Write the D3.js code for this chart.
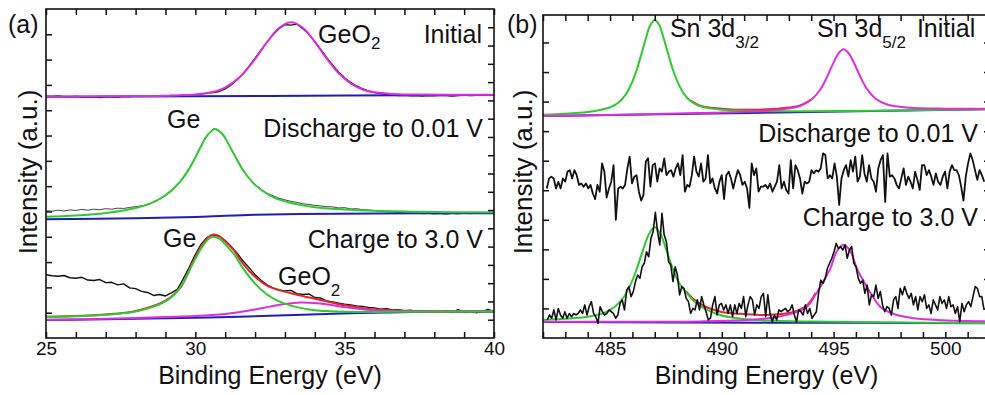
<!DOCTYPE html>
<html>
<head>
<meta charset="utf-8">
<script src="https://cdn.jsdelivr.net/npm/d3@7"></script>
<style>
  body { margin: 0; background: #fff; }
</style>
</head>
<body>
<div id="chart"></div>
<script>
"use strict"

// ---------- panel (a): Ge 3d, measured spectra on a 0.2 eV grid from 25 eV ----------
const aStart = 25, aStep = 0.2
const aInitialData = [9.56,9.55,9.57,9.54,9.53,9.55,9.52,9.51,9.53,9.50,
  9.53,9.54,9.52,9.55,9.54,9.56,9.55,9.57,9.56,9.58,
  9.57,9.59,9.58,9.60,9.61,
  9.62,9.64,9.68,9.70,9.74,9.84,10.00,10.20,10.45,10.74,
  11.06,11.38,11.68,11.98,12.22,12.38,12.36,12.40,12.22,12.00,
  11.72,11.40,11.08,10.78,10.50,
  10.28,10.10,9.96,9.85,9.76,9.70,9.66,9.63,9.60,9.58,
  9.59,9.57,9.58,9.56,9.58,9.57,9.59,9.58,9.56,9.58,
  9.60,9.58,9.59,9.61,9.60,
  9.61]
const aDischargeData = [5.03,5.01,5.05,5.02,5.06,5.04,5.08,5.05,5.09,5.07,
  5.11,5.09,5.13,5.12,5.16,5.19,5.22,5.27,5.36,5.48,
  5.62,5.80,6.04,6.36,6.72,
  7.15,7.62,8.00,8.27,8.18,7.90,7.45,7.05,6.62,6.30,
  6.06,5.88,5.72,5.62,5.52,5.46,5.40,5.36,5.30,5.28,
  5.24,5.22,5.19,5.18,5.14,
  5.15,5.10,5.11,5.07,5.06,5.03,5.02,4.99,4.98,4.96,
  4.95,4.93,4.94,4.91,4.92,4.90,4.91,4.89,4.92,4.90,
  4.93,4.91,4.94,4.92,4.93,
  4.94]
const aChargeData = [2.50,2.46,2.44,2.47,2.38,2.36,2.40,2.29,2.27,2.31,
  2.19,2.20,2.10,2.14,1.98,1.95,1.84,1.80,1.68,1.72,
  1.66,1.78,1.92,2.35,2.80,
  3.30,3.72,3.98,4.08,4.02,3.85,3.62,3.35,3.04,2.78,
  2.50,2.28,2.10,1.98,1.90,1.86,1.88,1.75,1.72,1.74,
  1.60,1.58,1.46,1.42,1.38,
  1.34,1.31,1.27,1.25,1.21,1.19,1.14,1.16,1.11,1.12,
  1.07,1.10,1.05,1.07,1.04,1.06,1.03,1.08,1.01,1.12,
  1.02,1.06,1.00,1.04,1.13,
  1.05]

// fitted curves of panel (a), [binding energy, intensity]
const aInitialGeO2 = [[25,9.54],[26,9.545],[27,9.55],[28,9.56],[29,9.575],[29.6,9.60],[30,9.62],[30.4,9.68],
  [30.8,9.79],[31.2,10.04],[31.6,10.44],[32,11.02],[32.4,11.69],[32.8,12.25],[33.2,12.48],[33.6,12.26],
  [34,11.70],[34.4,11.04],[34.8,10.46],[35.2,10.06],[35.6,9.82],[36,9.71],[36.4,9.66],[36.8,9.63],
  [37.5,9.62],[38.5,9.61],[40,9.61]]
const aInitialBase = [[25,9.53],[30,9.55],[35,9.58],[40,9.60]]

const aDischargeGe = [[25,4.79],[26,4.84],[27,4.94],[28,5.14],[28.5,5.32],[29,5.64],[29.5,6.19],[29.8,6.70],
  [30,7.13],[30.2,7.60],[30.4,8.01],[30.66,8.26],[30.9,8.07],[31.1,7.69],[31.3,7.25],[31.6,6.63],[32,6.05],
  [32.5,5.63],[33,5.40],[34,5.17],[35,5.08],[36,5.03],[38,4.98],[40,4.97]]
const aDischargeBase = [[25,4.69],[28,4.73],[30,4.78],[31,4.83],[32,4.87],[33.5,4.90],[36,4.92],[40,4.93]]

const aChargeGe = [[25,0.83],[26,0.86],[27,0.92],[27.5,0.97],[28,1.05],[28.5,1.20],[29,1.45],[29.3,1.72],
  [29.6,2.20],[29.9,2.90],[30.2,3.55],[30.45,3.92],[30.6,4.00],[30.8,3.93],[31,3.70],[31.3,3.30],[31.6,2.75],
  [32,2.15],[32.4,1.72],[32.8,1.45],[33.4,1.22],[34,1.10],[34.5,1.06],[35,1.04],[36,1.03],[37,1.04],[38,1.04],[40,1.05]]
const aChargeGeO2 = [[25,0.72],[26,0.74],[27,0.76],[28,0.79],[29,0.83],[30,0.87],[31,0.95],[31.5,1.03],
  [32,1.13],[32.5,1.24],[33,1.34],[33.5,1.40],[34,1.38],[34.5,1.31],[35,1.22],[35.5,1.15],[36,1.10],
  [36.5,1.07],[37,1.06],[38,1.05],[39,1.05],[40,1.06]]
const aChargeSum = [[25,0.84],[27,0.93],[28,1.07],[29,1.48],[29.5,1.99],[29.9,2.96],[30.2,3.62],[30.45,4.00],
  [30.6,4.09],[30.8,4.03],[31,3.82],[31.3,3.45],[31.6,2.93],[32,2.42],[32.4,2.07],[32.8,1.89],[33.4,1.71],
  [34,1.55],[34.5,1.42],[35,1.29],[35.5,1.20],[36,1.13],[37,1.08],[38,1.06],[40,1.07]]
const aChargeBase = [[25,0.71],[27.5,0.75],[30,0.80],[32.5,0.88],[34.4,0.95],[36,1.0],[38,1.03],[40,1.04]]

// ---------- panel (b): Sn 3d ----------
// discharged spectrum, only noise
const bDischargeStart = 482.17, bDischargeStep = 0.103
const bDischargeData = [5.06,5.40,5.46,5.40,5.06,5.29,5.06,5.40,5.29,5.63,
  5.68,5.40,5.68,5.51,5.18,5.23,5.12,5.23,5.06,5.18,
  4.89,4.70,5.18,4.95,5.91,5.63,4.75,5.06,5.29,5.85,
  4.00,5.06,5.12,5.06,5.18,5.74,6.14,5.23,5.46,5.51,
  4.95,4.65,4.84,5.97,6.08,5.12,5.85,5.91,5.29,5.74,
  5.63,6.08,5.51,5.63,5.68,5.46,5.74,5.91,5.51,6.19,
  4.95,5.18,5.12,5.51,6.14,5.63,5.46,5.91,5.29,5.40,
  6.19,5.23,5.40,5.06,4.89,5.29,5.51,4.70,5.51,5.63,
  5.40,5.06,5.40,5.68,5.51,5.18,5.29,5.06,4.40,5.91,
  5.51,5.74,4.95,5.12,
  5.12,5.18,5.06,5.23,4.95,5.12,5.29,5.85,5.06,5.29,
  5.01,4.89,6.02,5.06,5.85,5.68,5.40,4.89,5.29,5.23,
  5.29,5.68,5.57,5.68,5.63,5.74,6.25,6.19,5.40,5.51,
  5.40,5.91,5.46,4.50,5.40,5.68,5.85,5.46,6.02,5.63,
  6.14,5.29,5.46,6.19,5.57,5.29,5.85,5.40,5.29,4.95,
  5.74,6.02,6.19,4.60,6.25,5.46,5.51,5.40,5.18,5.06,
  5.40,5.74,5.18,5.46,5.29,5.06,5.63,5.35,5.01,5.85,
  5.85,5.51,5.68,5.46,5.18,5.57,5.29,5.18,5.46,5.63,
  5.06,5.63,5.85,5.68,5.68,5.51,5.12,4.65,5.46,5.91,
  6.25,6.02,5.68,5.35,5.68,5.51,5.29]

// charged spectrum
const bChargeStart = 482.19, bChargeStep = 0.0987
const bChargeData = [0.61,0.78,0.67,0.95,0.61,1.00,0.78,0.67,0.89,0.67,
  0.83,0.72,0.83,0.78,0.83,0.95,0.83,1.12,0.78,1.06,
  1.23,0.83,0.72,0.50,1.06,0.89,0.78,0.83,0.95,0.89,
  0.83,0.67,0.78,1.17,1.29,0.95,1.62,1.74,1.40,1.57,
  1.91,2.13,2.02,2.41,2.53,2.92,2.75,3.37,3.60,4.25,
  3.60,3.15,4.22,3.49,3.26,2.58,2.47,1.91,2.41,2.13,
  1.46,1.74,1.68,1.34,1.23,0.83,1.00,0.95,1.29,0.95,
  1.40,1.12,0.89,0.61,0.67,1.12,1.40,0.78,1.12,1.17,
  0.95,1.12,0.83,1.12,0.72,1.12,0.83,1.17,1.00,1.40,
  0.72,1.12,1.40,1.29,0.78,1.12,1.00,1.40,1.51,0.72,
  1.46,0.83,0.55,0.78,0.61,0.95,0.89,0.95,1.00,0.89,
  0.95,1.12,0.78,0.55,0.95,0.89,0.78,1.12,0.83,1.00,
  0.67,0.78,0.89,1.51,1.96,1.85,2.02,2.36,2.53,2.70,
  2.92,3.20,3.03,3.09,2.98,3.15,2.70,2.98,3.09,2.53,
  2.41,2.02,1.85,1.96,1.51,1.79,1.12,1.46,1.40,1.79,
  1.34,1.57,1.12,0.89,1.06,1.00,0.78,1.29,1.40,1.00,
  1.68,1.46,1.74,1.51,1.34,1.51,1.12,1.40,0.95,1.40,
  1.23,1.46,1.00,1.12,0.83,1.29,1.12,0.95,1.40,1.17,
  1.29,1.00,1.40,1.06,1.12,0.83,1.06,0.55,1.17,0.89,
  1.12,1.23,1.06,1.40,1.74,1.68,1.40,1.40,0.95]

// fitted curves of panel (b)
const bInitialSn32 = [[482,7.555],[483,7.59],[484,7.65],[484.5,7.71],[485,7.81],[485.4,7.98],[485.7,8.24],
  [486,8.68],[486.2,9.09],[486.4,9.60],[486.6,10.13],[486.8,10.58],[487,10.76],[487.2,10.59],[487.4,10.14],
  [487.6,9.61],[487.8,9.11],[488,8.70],[488.3,8.27],[488.6,8.02],[489,7.85],[489.5,7.77],[490,7.72],
  [491,7.68],[492,7.67],[494,7.67],[497,7.69],[502,7.745]]
const bInitialSn52 = [[482,7.51],[486,7.565],[489,7.61],[491,7.656],[492.5,7.72],[493.5,7.85],[494,8.06],
  [494.4,8.40],[494.7,8.82],[495,9.32],[495.25,9.66],[495.45,9.77],[495.65,9.66],[495.9,9.33],[496.2,8.84],
  [496.5,8.42],[496.9,8.09],[497.4,7.90],[498.4,7.79],[500,7.76],[502,7.76]]
const bInitialSum = [[488.6,8.03],[489,7.87],[489.5,7.79],[490,7.76],[491,7.72],[492,7.74],[492.5,7.76],
  [493,7.80],[493.5,7.87],[494,8.07]]
const bInitialBase = [[482,7.51],[502,7.74]]

const bChargeSn32 = [[482,0.61],[483,0.65],[484,0.72],[484.7,0.84],[485.2,1.05],[485.6,1.37],[485.9,1.78],
  [486.1,2.14],[486.25,2.46],[486.5,3.03],[486.75,3.53],[487,3.75],[487.25,3.53],[487.5,3.03],[487.75,2.46],
  [487.9,2.16],[488.1,1.85],[488.4,1.55],[488.8,1.22],[489.3,0.97],[490,0.76],[491,0.64],[492,0.59],
  [494,0.555],[497,0.53],[502,0.51]]
const bChargeSn52 = [[482,0.55],[486,0.55],[489,0.56],[491,0.60],[492.3,0.69],[493.2,0.84],[493.8,1.05],
  [494.2,1.47],[494.55,1.92],[494.85,2.34],[495.15,2.94],[495.45,3.155],[495.75,2.94],[496.05,2.34],
  [496.35,1.92],[496.7,1.47],[497.1,1.05],[497.7,0.81],[498.6,0.665],[499.9,0.60],[502,0.56]]
const bChargeSum = [[488.4,1.58],[488.8,1.28],[489.3,1.05],[490,0.88],[490.8,0.82],[491.7,0.78],
  [492.5,0.80],[493.2,0.88],[493.8,1.10],[494.2,1.52]]
const bChargeBase = [[482,0.54],[492,0.52],[502,0.50]]

// tick labels
const aTickLabels = [25, 30, 35, 40]
const bTickLabels = [485, 490, 495, 500]

// colours
const BLACK = "#111", GREEN = "#2fca2f", MAGENTA = "#dd2fdd", BLUE = "#1f1fb8", RED = "#e3262b"
const FONT = "'Liberation Sans', Arial, sans-serif"

const svg = d3.select("#chart").append("svg")
  .attr("width", 985)
  .attr("height", 395)

// turn an evenly spaced value list into [x, y] points
function grid(start, step, vals) {
  return vals.map((v, i) => [start + i * step, v])
}

function drawPanel(p) {
  const x = d3.scaleLinear().domain(p.xDomain).range(p.xRange)
  const y = d3.scaleLinear().domain(p.yDomain).range(p.yRange)
  const yR = d3.scaleLinear().domain(p.yRightDomain).range(p.yRange)
  const g = svg.append("g")

  g.append("clipPath").attr("id", "clip-" + p.id)
    .append("rect")
      .attr("x", p.xRange[0]).attr("y", p.yRange[1])
      .attr("width", p.xRange[1] - p.xRange[0])
      .attr("height", p.yRange[0] - p.yRange[1])

  const plot = g.append("g").attr("clip-path", "url(#clip-" + p.id + ")")
  p.layers.forEach(l => {
    const line = d3.line()
      .x(d => x(d[0]))
      .y(d => y(d[1]))
      .curve(l.smooth ? d3.curveCatmullRom.alpha(0.5) : d3.curveLinear)
    plot.append("path").datum(l.pts)
      .attr("fill", "none")
      .attr("stroke", l.color)
      .attr("stroke-width", l.width)
      .attr("stroke-linejoin", "round")
      .attr("d", line)
  })

  // axes: ticks every 1 eV pointing inwards, labels every 5 eV
  const xt = d3.range(p.xDomain[0], p.xDomain[1] + 0.5, 1)
  const bottom = g.append("g")
    .attr("transform", "translate(0," + p.yRange[0] + ")")
    .call(d3.axisBottom(x).tickValues(xt).tickSize(-6).tickPadding(4)
      .tickFormat(d => p.xLabels.includes(d) ? d : ""))
  bottom.attr("font-size", 19).attr("font-family", FONT)
  bottom.selectAll("text").attr("fill", BLACK)

  g.append("g")
    .attr("transform", "translate(0," + p.yRange[1] + ")")
    .call(d3.axisTop(x).tickValues(xt).tickSize(-6).tickFormat(""))
  g.append("g")
    .attr("transform", "translate(" + p.xRange[0] + ",0)")
    .call(d3.axisLeft(y).tickValues(p.leftTicks).tickSize(-6).tickFormat(""))
  g.append("g")
    .attr("transform", "translate(" + p.xRange[1] + ",0)")
    .call(d3.axisRight(yR).tickValues(p.rightTicks).tickSize(-6).tickFormat(""))

  g.selectAll(".domain").remove()
  g.selectAll(".tick line").attr("stroke", BLACK).attr("stroke-width", 1.5)

  g.append("rect")
    .attr("x", p.xRange[0]).attr("y", p.yRange[1])
    .attr("width", p.xRange[1] - p.xRange[0])
    .attr("height", p.yRange[0] - p.yRange[1])
    .attr("fill", "none").attr("stroke", BLACK).attr("stroke-width", 1.6)

  // axis titles
  g.append("text")
    .attr("x", (p.xRange[0] + p.xRange[1]) / 2).attr("y", 384)
    .attr("text-anchor", "middle")
    .attr("font-family", FONT).attr("font-size", 25).attr("fill", BLACK)
    .text("Binding Energy (eV)")
  g.append("text")
    .attr("transform", "translate(" + p.yTitleX + ",172) rotate(-90)")
    .attr("text-anchor", "middle")
    .attr("font-family", FONT).attr("font-size", 26).attr("fill", BLACK)
    .text("Intensity (a.u.)")

  g.append("text")
    .attr("x", p.tagX).attr("y", 33)
    .attr("font-family", FONT).attr("font-size", 25).attr("fill", BLACK)
    .text(p.tag)

  // annotations, placed in data coordinates
  p.labels.forEach(l => {
    const t = g.append("text")
      .attr("x", x(l.x)).attr("y", y(l.y))
      .attr("text-anchor", l.anchor || "start")
      .attr("font-family", FONT).attr("font-size", 25).attr("fill", BLACK)
    t.append("tspan").text(l.text)
    if (l.sub) t.append("tspan").attr("dy", l.subDy).attr("font-size", 17).text(l.sub)
  })
}

drawPanel({
  id: "a", tag: "(a)", tagX: 8, yTitleX: 37,
  xDomain: [25, 40], xRange: [46, 494],
  yDomain: [0, 13], yRange: [338, 9],
  yRightDomain: [0, 18],
  leftTicks: d3.range(1, 13), rightTicks: d3.range(1, 18),
  xLabels: aTickLabels,
  layers: [
    { pts: grid(aStart, aStep, aInitialData), color: BLACK, width: 1.3 },
    { pts: aInitialBase, color: BLUE, width: 2, smooth: true },
    { pts: aInitialGeO2, color: MAGENTA, width: 2, smooth: true },
    { pts: grid(aStart, aStep, aDischargeData), color: "#444", width: 1 },
    { pts: aDischargeBase, color: BLUE, width: 2, smooth: true },
    { pts: aDischargeGe, color: GREEN, width: 2, smooth: true },
    { pts: grid(aStart, aStep, aChargeData), color: BLACK, width: 1.4 },
    { pts: aChargeBase, color: BLUE, width: 2, smooth: true },
    { pts: aChargeSum, color: RED, width: 2, smooth: true },
    { pts: aChargeGeO2, color: MAGENTA, width: 2, smooth: true },
    { pts: aChargeGe, color: GREEN, width: 2, smooth: true }
  ],
  labels: [
    { text: "GeO", sub: "2", subDy: 6, x: 34.11, y: 11.66 },
    { text: "Initial", x: 39.6, y: 11.66, anchor: "end" },
    { text: "Ge", x: 29.05, y: 8.30 },
    { text: "Discharge to 0.01 V", x: 39.63, y: 7.94, anchor: "end" },
    { text: "Ge", x: 28.92, y: 3.60 },
    { text: "Charge to 3.0 V", x: 39.63, y: 3.56, anchor: "end" },
    { text: "GeO", sub: "2", subDy: 11, x: 32.77, y: 2.09 }
  ]
})

drawPanel({
  id: "b", tag: "(b)", tagX: 507, yTitleX: 532,
  xDomain: [482, 502], xRange: [543, 990],
  yDomain: [0, 10.93], yRange: [338, 15],
  yRightDomain: [0, 10.93],
  leftTicks: d3.range(1, 11), rightTicks: d3.range(1, 11),
  xLabels: bTickLabels,
  layers: [
    { pts: bInitialBase, color: BLUE, width: 2, smooth: true },
    { pts: bInitialSum, color: RED, width: 2, smooth: true },
    { pts: bInitialSn32, color: GREEN, width: 2, smooth: true },
    { pts: bInitialSn52, color: MAGENTA, width: 2, smooth: true },
    { pts: grid(bDischargeStart, bDischargeStep, bDischargeData), color: BLACK, width: 1.8 },
    { pts: bChargeBase, color: BLUE, width: 2, smooth: true },
    { pts: bChargeSum, color: RED, width: 2, smooth: true },
    { pts: bChargeSn32, color: GREEN, width: 2, smooth: true },
    { pts: bChargeSn52, color: MAGENTA, width: 2, smooth: true },
    { pts: grid(bChargeStart, bChargeStep, bChargeData), color: BLACK, width: 1.6 }
  ],
  labels: [
    { text: "Sn 3d", sub: "3/2", subDy: 11, x: 487.68, y: 10.19 },
    { text: "Sn 3d", sub: "5/2", subDy: 11, x: 494.26, y: 10.19 },
    { text: "Initial", x: 498.73, y: 10.19 },
    { text: "Discharge to 0.01 V", x: 501.46, y: 6.63, anchor: "end" },
    { text: "Charge to 3.0 V", x: 501.46, y: 3.79, anchor: "end" }
  ]
})
</script>
</body>
</html>
